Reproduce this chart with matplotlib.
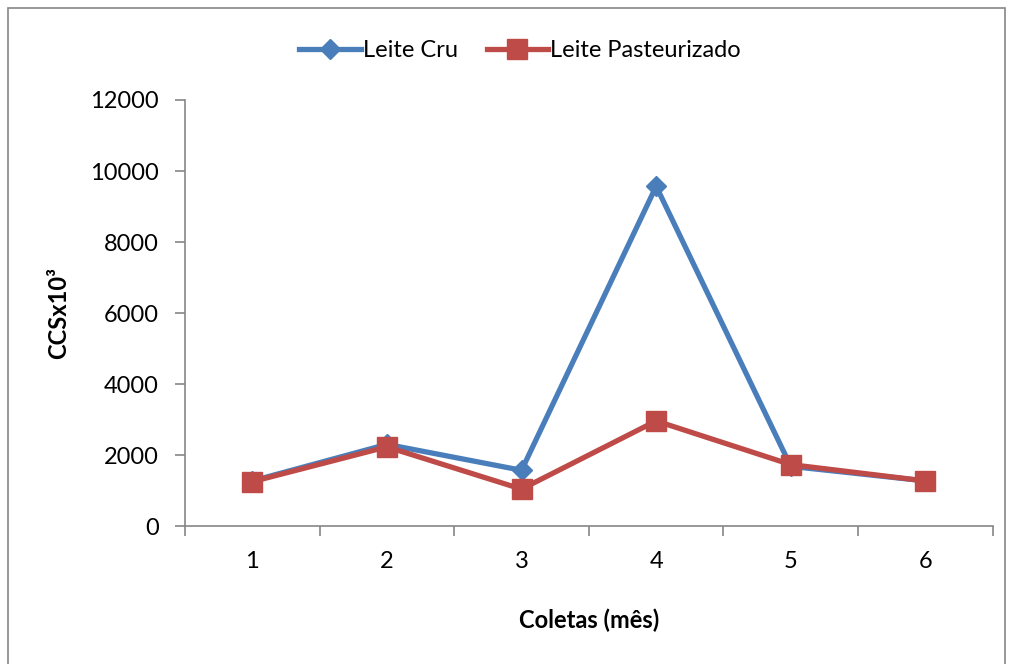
import matplotlib
matplotlib.use("Agg")
import matplotlib.pyplot as plt
from matplotlib.patches import Rectangle

categories = [1, 2, 3, 4, 5, 6]
leite_cru = [1270, 2300, 1570, 9570, 1680, 1270]
leite_past = [1250, 2230, 1040, 2960, 1730, 1270]
yticks = [0, 2000, 4000, 6000, 8000, 10000, 12000]

plt.rcParams['font.family'] = ['Lato', 'DejaVu Sans']

fig = plt.figure(figsize=(10.13, 6.64), dpi=100)
ax = fig.add_axes([0.1826, 0.2078, 0.7974, 0.6416])

ax.plot(categories, leite_cru, color='#4A7EBB', lw=3.8, marker='D', ms=10,
        label='Leite Cru', zorder=3)
ax.plot(categories, leite_past, color='#BE4B48', lw=3.8, marker='s', ms=14,
        label='Leite Pasteurizado', zorder=4)

ax.set_xlim(0.5, 6.5)
ax.set_ylim(0, 12000)
ax.set_yticks(yticks)
ax.set_xticks(categories)
ax.set_xticks([0.5 + i for i in range(7)], minor=True)
ax.tick_params(axis='x', which='major', length=0, pad=18, labelsize=17)
ax.tick_params(axis='x', which='minor', length=7, color='#868686', width=1.2)
ax.tick_params(axis='y', length=7, color='#868686', width=1.2, labelsize=17, pad=12)
for s in ['top', 'right']:
    ax.spines[s].set_visible(False)
for s in ['left', 'bottom']:
    ax.spines[s].set_color('#868686')
    ax.spines[s].set_linewidth(1.2)

ax.set_ylabel('CCSx10³', fontsize=17, fontweight='bold', labelpad=14)
ax.set_xlabel('Coletas (mês)', fontsize=17, fontweight='bold', labelpad=26)

ax.legend(loc='upper center', bbox_to_anchor=(0.415, 1.19), ncol=2,
          frameon=False, fontsize=17, handlelength=2.6, columnspacing=1.2,
          handletextpad=0.1)

fig.patches.append(Rectangle((0.008, -0.01), 0.984, 0.998, transform=fig.transFigure,
                             fill=False, edgecolor='#868686', lw=1.2))

fig.savefig('out.png', dpi=100)
